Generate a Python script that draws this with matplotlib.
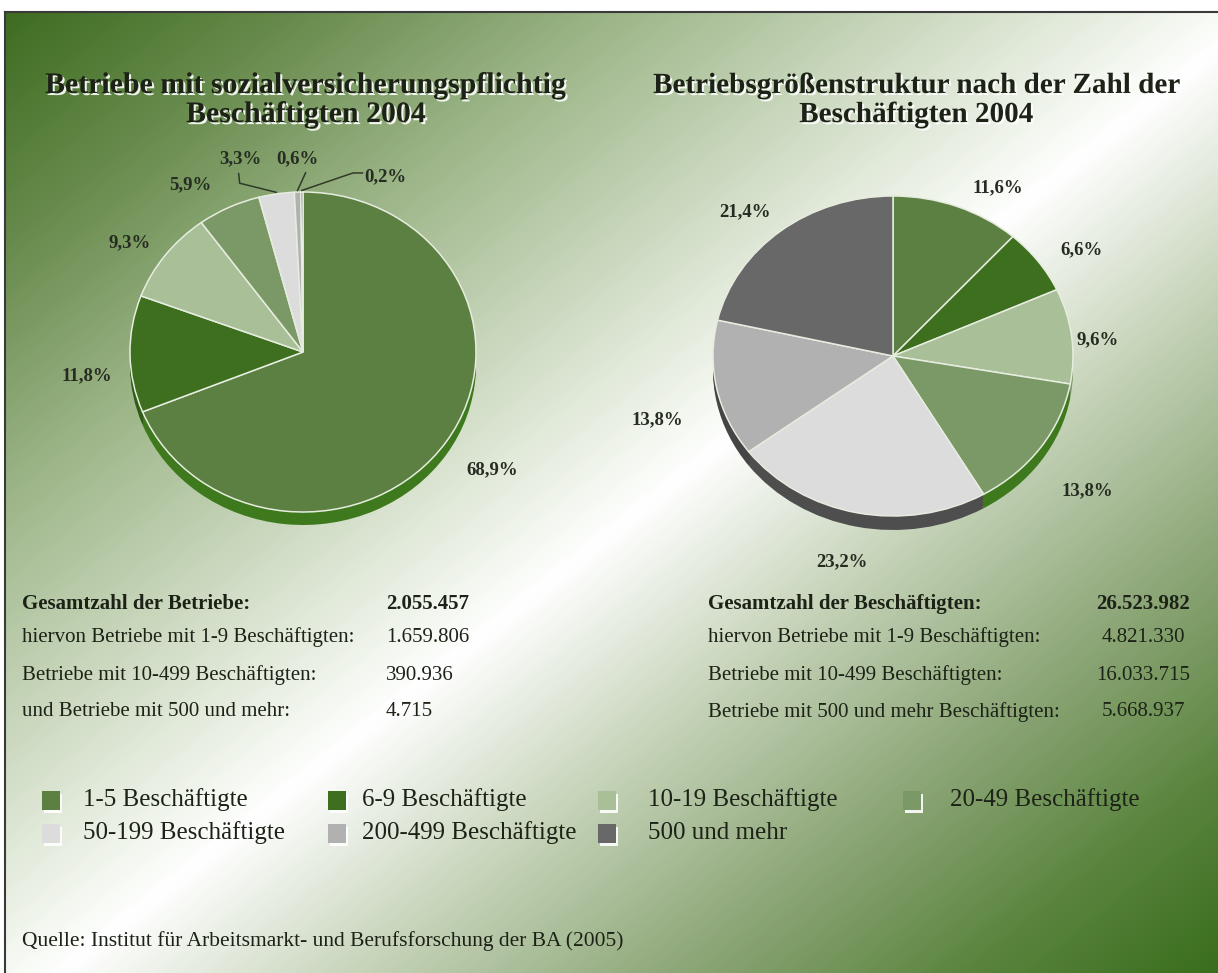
import numpy as np
import matplotlib
matplotlib.use("Agg")
import matplotlib.pyplot as plt
import matplotlib.patheffects as pe
from matplotlib.colors import LinearSegmentedColormap
from matplotlib.patches import Rectangle

# ---------------------------------------------------------------------------
# Data
# ---------------------------------------------------------------------------
CATEGORIES = ["1-5 Beschäftigte", "6-9 Beschäftigte", "10-19 Beschäftigte",
              "20-49 Beschäftigte", "50-199 Beschäftigte", "200-499 Beschäftigte",
              "500 und mehr"]
BETRIEBE_SHARE = [68.9, 11.8, 9.3, 5.9, 3.3, 0.6, 0.2]
BESCHAEFTIGTE_SHARE = [11.6, 6.6, 9.6, 13.8, 23.2, 13.8, 21.4]

LEFT_TITLE = "Betriebe mit sozialversicherungspflichtig\nBeschäftigten 2004"
RIGHT_TITLE = "Betriebsgrößenstruktur nach der Zahl der\nBeschäftigten 2004"

LEFT_TABLE_LABELS = ["Gesamtzahl der Betriebe:",
                     "hiervon Betriebe mit 1-9 Beschäftigten:",
                     "Betriebe mit 10-499 Beschäftigten:",
                     "und Betriebe mit 500 und mehr:"]
LEFT_TABLE_VALUES = ["2.055.457", "1.659.806", "390.936", "4.715"]
RIGHT_TABLE_LABELS = ["Gesamtzahl der Beschäftigten:",
                      "hiervon Betriebe mit 1-9 Beschäftigten:",
                      "Betriebe mit 10-499 Beschäftigten:",
                      "Betriebe mit 500 und mehr Beschäftigten:"]
RIGHT_TABLE_VALUES = ["26.523.982", "4.821.330", "16.033.715", "5.668.937"]

SOURCE = "Quelle: Institut für Arbeitsmarkt- und Berufsforschung der BA (2005)"

# ---------------------------------------------------------------------------
# Style
# ---------------------------------------------------------------------------
W, H, DPI = 1218, 973, 100
FONT = ["Liberation Serif", "DejaVu Serif"]
TEXT = "#1c2216"
COLORS = ["#5b8042", "#3d6f1f", "#a9bf98", "#7b9966", "#dcdcdc", "#b1b1b1", "#686868"]
SIDE_COLORS = ["#3e7a1d", "#2f5c17", "#7f9a6c", "#3e7a1d", "#4e4e4e", "#454545", "#3a3a3a"]
EDGE = "#e6eddf"

# label placement (distance from centre in radii, angle tweak in degrees)
LEFT_LABEL_POS = [(1.32, 0), (1.26, 6), (1.21, 3), (1.23, 6.5)]
LEFT_SMALL_LABELS = [(-0.36, 1.205), (-0.035, 1.205), (0.474, 1.094)]
RIGHT_LABEL_POS = [(1.20, -8), (1.24, -4), (1.14, -2), (1.37, -3),
                   (1.32, -1), (1.37, 5), (1.22, 4)]

plt.rcParams["font.family"] = FONT


def fx(x):
    return x / W


def fy(y):
    return 1 - y / H


def pct(v):
    return f"{v:.1f}".replace(".", ",") + "%"


def mid_angles(values):
    cum = np.cumsum(values)
    return 90 - 360 * (cum - np.array(values) / 2) / sum(values)


def draw_pie(fig, cx, cy, rx, ry, depth, values):
    lim = 1.5
    ax = fig.add_axes([fx(cx - lim * rx), fy(cy + lim * ry),
                       2 * lim * rx / W, 2 * lim * ry / H])
    for off in np.linspace(depth, 0.2 * depth, 5):
        ax.pie(values, colors=SIDE_COLORS, startangle=90, counterclock=False,
               center=(0, -off / ry), wedgeprops=dict(edgecolor="none"))
    ax.pie(values, colors=COLORS, startangle=90, counterclock=False,
           wedgeprops=dict(edgecolor=EDGE, linewidth=1.1))
    ax.set_aspect("auto")
    ax.set_xlim(-lim, lim)
    ax.set_ylim(-lim, lim)
    ax.axis("off")
    return ax


def pie_label(ax, x, y, v):
    ax.text(x, y, pct(v), ha="center", va="center", fontsize=13.5,
            fontweight="bold", color="#262c22")


fig = plt.figure(figsize=(W / DPI, H / DPI), dpi=DPI)
fig.patch.set_facecolor("white")

# background gradient (green - white - green along the diagonal)
bg = fig.add_axes([fx(6), 0, 1 - fx(6), 1 - 13 / H])
cmap = LinearSegmentedColormap.from_list("bg", [
    (0.0, "#3c6a1f"), (0.125, "#678a4c"), (0.25, "#9ab385"), (0.375, "#c8d6bb"),
    (0.5, "#f6f9f3"), (0.525, "#ffffff"), (0.65, "#c5d3b8"), (0.775, "#8fa87a"),
    (0.9, "#5a843e"), (1.0, "#3a6e1c")])
xs = np.linspace(6, W, 400)
ys = np.linspace(13, H, 320)
X, Y = np.meshgrid(xs, ys)
bg.imshow(X / W + Y / H, cmap=cmap, vmin=0, vmax=2, aspect="auto",
          extent=(0, 1, 0, 1), origin="upper", interpolation="bilinear")
bg.set_xlim(0, 1)
bg.set_ylim(0, 1)
bg.axis("off")

# frame lines
fig.add_artist(plt.Line2D([fx(5), 1], [fy(12), fy(12)], color="#3a3a3a", lw=1.5))
fig.add_artist(plt.Line2D([fx(5), fx(5)], [0, fy(12)], color="#3a3a3a", lw=1.5))

# titles
shadow = [pe.withSimplePatchShadow(offset=(1.5, -1.5), shadow_rgbFace="white", alpha=0.9)]
fig.text(fx(306), fy(100), LEFT_TITLE, ha="center", va="center", fontsize=21.5,
         fontweight="bold", color=TEXT, linespacing=1.1, path_effects=shadow)
fig.text(fx(916), fy(100), RIGHT_TITLE, ha="center", va="center", fontsize=21,
         fontweight="bold", color=TEXT, linespacing=1.1, path_effects=shadow)

# left pie
ax1 = draw_pie(fig, 303, 352, 173, 160, 13, BETRIEBE_SHARE)
mids = mid_angles(BETRIEBE_SHARE)
for i, (d, da) in enumerate(LEFT_LABEL_POS):
    a = np.radians(mids[i] + da)
    pie_label(ax1, d * np.cos(a), d * np.sin(a), BETRIEBE_SHARE[i])
for j, (lx, ly) in enumerate(LEFT_SMALL_LABELS):
    i = 4 + j
    a = np.radians(mids[i])
    rim = (np.cos(a) * 1.01, np.sin(a) * 1.01)
    pie_label(ax1, lx, ly, BETRIEBE_SHARE[i])
    if j == 0:
        path = [(lx - 0.012, ly - 0.09), (lx - 0.006, ly - 0.15), rim]
    elif j == 1:
        path = [(lx + 0.05, ly - 0.085), rim]
    else:
        path = [(lx - 0.13, ly + 0.025), (lx - 0.185, ly + 0.025), rim]
    px, py = zip(*path)
    ax1.plot(px, py, color="#2f3a28", lw=1.1)

# right pie
ax2 = draw_pie(fig, 893, 356, 180, 160, 14, BESCHAEFTIGTE_SHARE)
mids = mid_angles(BESCHAEFTIGTE_SHARE)
for i, (d, da) in enumerate(RIGHT_LABEL_POS):
    a = np.radians(mids[i] + da)
    pie_label(ax2, d * np.cos(a), d * np.sin(a), BESCHAEFTIGTE_SHARE[i])

# tables
row_y = [604, 637, 675, 712]
for k, (lab, val) in enumerate(zip(LEFT_TABLE_LABELS, LEFT_TABLE_VALUES)):
    w = "bold" if k == 0 else "normal"
    fig.text(fx(22), fy(row_y[k]), lab, ha="left", va="center", fontsize=15,
             fontweight=w, color=TEXT)
    fig.text(fx(386), fy(row_y[k]), val, ha="left", va="center", fontsize=15,
             fontweight=w, color=TEXT)
for k, (lab, val) in enumerate(zip(RIGHT_TABLE_LABELS, RIGHT_TABLE_VALUES)):
    w = "bold" if k == 0 else "normal"
    fig.text(fx(708), fy(row_y[k]), lab, ha="left", va="center", fontsize=15,
             fontweight=w, color=TEXT)
    fig.text(fx(1143), fy(row_y[k]), val, ha="center", va="center", fontsize=15,
             fontweight=w, color=TEXT)

# legend
leg_sq_x = [42, 328, 598, 903]
leg_txt_x = [83, 362, 648, 950]
leg_y = [800, 833]
sq_w, sq_h = 18, 19
for i, (name, col) in enumerate(zip(CATEGORIES, COLORS)):
    r, c = divmod(i, 4)
    x0, yc = leg_sq_x[c], leg_y[r]
    fig.add_artist(Rectangle((fx(x0 + 2), fy(yc + sq_h / 2 + 3)), sq_w / W, sq_h / H,
                             transform=fig.transFigure, facecolor="white",
                             edgecolor="none", alpha=0.9))
    fig.add_artist(Rectangle((fx(x0), fy(yc + sq_h / 2)), sq_w / W, sq_h / H,
                             transform=fig.transFigure, facecolor=col,
                             edgecolor="none"))
    fig.text(fx(leg_txt_x[c]), fy(yc), name, ha="left", va="center",
             fontsize=18, color=TEXT)

fig.text(fx(22), fy(941), SOURCE, ha="left", va="center", fontsize=15.5, color=TEXT)

fig.savefig("out.png", dpi=DPI)
